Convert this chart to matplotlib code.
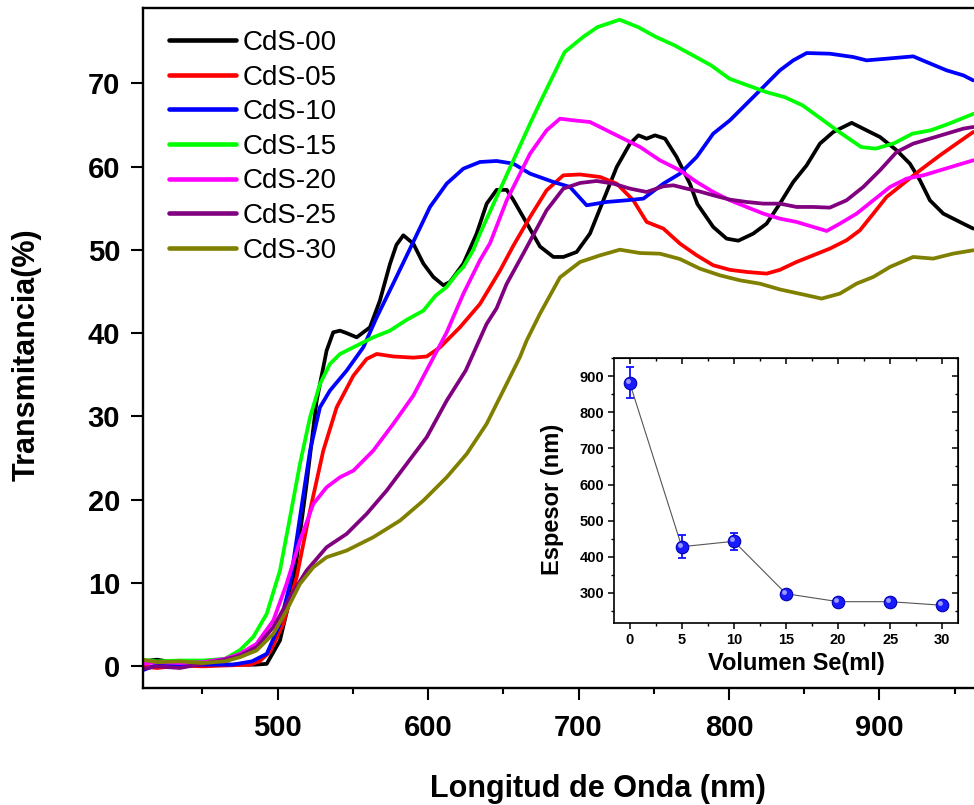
import numpy as np
import matplotlib
matplotlib.use("Agg")
import matplotlib.pyplot as plt
from matplotlib.ticker import MultipleLocator
from matplotlib import transforms

plt.rcParams['font.family'] = ['Liberation Sans', 'DejaVu Sans']

# ---------------- data ----------------
labels = ["CdS-00", "CdS-05", "CdS-10", "CdS-15", "CdS-20", "CdS-25", "CdS-30"]
colors = ["#000000", "#ff0000", "#0000ff", "#00ff00", "#ff00ff", "#800080", "#808000"]

wl_00 = [410, 420, 430, 440, 455, 470, 485, 492.8, 501.6, 510.5, 519.3, 526, 532.6, 537, 541.5, 546,
         552.6, 561.4, 568, 574.7, 579, 583.6, 590.2, 596.9, 603.5, 610.2, 614.6, 623.5, 632.3, 639,
         645.6, 652.3, 656.7, 665.6, 674.4, 683.3, 690, 698.8, 707.6, 716.5, 725.4, 734.2, 739.8,
         745.3, 750.8, 757.5, 765.2, 774, 779, 789.5, 798.4, 806.2, 816.1, 825, 833.8, 842.7, 851.6,
         860.4, 869.3, 881.5, 891.4, 900.3, 911.4, 920.2, 926.9, 933.5, 942.4, 953.4, 962.3]
t_00 = [0.6, 0.8, 0.5, 0.4, 0.3, 0.2, 0.2, 0.3, 3.1, 9.9, 21.9, 31.9, 37.9, 40.1, 40.3, 40.0,
        39.5, 40.7, 43.9, 48.3, 50.6, 51.75, 50.75, 48.35, 46.75, 45.75, 46.15, 48.35, 51.95, 55.55,
        57.2, 57.2, 56.0, 53.2, 50.4, 49.15, 49.15, 49.75, 51.95, 55.95, 59.95, 62.75, 63.75,
        63.35, 63.75, 63.35, 61.15, 57.95, 55.5, 52.75, 51.35, 51.1, 51.95, 53.15, 55.55, 58.15, 60.15,
        62.75, 64.15, 65.25, 64.35, 63.55, 61.95, 60.35, 58.35, 55.95, 54.35, 53.35, 52.55]

wl_05 = [410, 420, 435, 450, 465, 481.7, 488, 495, 503.8, 512.7, 521.6, 530.4, 539.3, 550.4, 559.2,
         565.9, 576.9, 590.2, 599.1, 608, 621.2, 634.5, 647.8, 656.7, 667.8, 678.8, 689.9, 701, 714.3,
         725.4, 736.4, 745.3, 756.4, 767.4, 778.5, 789.5, 800.6, 811.7, 825, 833.8, 844.9, 856, 867,
         878.1, 887, 895.9, 904.7, 915.8, 926.9, 940.2, 951.2, 962.3]
t_05 = [0.0, -0.2, 0.1, 0.0, 0.1, 0.2, 0.6, 1.74, 5.1, 10.7, 18.7, 25.9, 31.1, 34.9, 36.9,
        37.5, 37.2, 37.06, 37.2, 38.3, 40.7, 43.5, 47.5, 50.5, 53.95, 57.15, 58.95, 59.05, 58.75,
        57.95, 55.95, 53.35, 52.55, 50.75, 49.35, 48.15, 47.6, 47.35, 47.15, 47.6, 48.55, 49.35, 50.15,
        51.15, 52.35, 54.35, 56.35, 57.95, 59.55, 61.35, 62.75, 64.15]

wl_10 = [410, 420, 435, 450, 470, 483, 492.8, 501.6, 508.3, 514.9, 521.6, 528.2, 534.8, 545.9, 557,
         565.9, 577, 589, 601.3, 612.4, 623.5, 634.5, 645.6, 656.7, 667.8, 683.3, 694.3, 705.4, 718.7,
         732, 743.1, 756.4, 767.4, 778.5, 789.5, 800.6, 811.7, 822.8, 833.8, 842.7, 851.6, 867, 882.6,
         891.4, 904.7, 922.4, 931.3, 944.6, 955.7, 962.3]
t_10 = [-0.5, 0.2, 0.1, 0.2, 0.2, 0.6, 1.5, 5.1, 9.9, 17.9, 25.9, 31.1, 33.1, 35.5, 38.3,
        41.9, 46.0, 50.5, 55.15, 57.95, 59.75, 60.55, 60.67, 60.35, 59.15, 58.15, 57.55, 55.35, 55.75,
        55.95, 56.15, 57.95, 59.15, 61.15, 63.95, 65.55, 67.55, 69.55, 71.55, 72.75, 73.63, 73.55, 73.15,
        72.75, 72.95, 73.23, 72.55, 71.55, 70.95, 70.35]

wl_15 = [410, 420, 435, 450, 465, 475, 483.9, 492.8, 501.6, 508.3, 514.9, 521.6, 528.2, 534.8, 541.5,
         552.6, 563.6, 574.7, 585.8, 596.9, 605, 612.4, 619, 623.5, 630.1, 634.5, 645.6, 656.7, 667.8,
         675, 690.8, 703, 712.7, 727.3, 739.5, 751.6, 763.8, 776, 788.1, 800.3, 812.4, 824.6, 836.8,
         848.9, 861.1, 873.2, 887.8, 897.5, 909.7, 921.9, 934, 946.2, 962.7]
t_15 = [0.8, 0.6, 0.7, 0.7, 0.9, 1.94, 3.54, 6.3, 11.5, 17.9, 24.3, 29.9, 33.9, 36.3, 37.5,
        38.5, 39.5, 40.3, 41.6, 42.7, 44.5, 45.55, 47.1, 47.95, 50.0, 51.95, 56.35, 60.75, 65.15,
        67.9, 73.75, 75.55, 76.75, 77.63, 76.75, 75.55, 74.55, 73.35, 72.15, 70.55, 69.75, 68.95, 68.35,
        67.35, 65.75, 64.15, 62.35, 62.15, 62.8, 63.95, 64.35, 65.15, 66.35]

wl_20 = [410, 420, 435, 450, 465, 475, 486, 497.2, 506, 514.9, 523.8, 532.6, 541.5, 550.4, 563.6,
         576.9, 590.2, 601.3, 612.4, 623.4, 634.5, 641.2, 652.3, 667.8, 678.8, 687.7, 696.6, 707.6,
         718.7, 729.8, 740.9, 754.1, 767.4, 778.5, 789.5, 800.6, 811.7, 822.8, 833.8, 844.9, 856, 864.9,
         873.7, 884.8, 895.9, 907, 918, 929.1, 940.2, 951.2, 962.3]
t_20 = [0.3, 0.5, 0.4, 0.5, 0.9, 1.5, 2.7, 5.5, 9.9, 15.1, 19.5, 21.5, 22.7, 23.5, 25.9,
        29.1, 32.5, 36.3, 40.1, 44.7, 48.75, 50.8, 55.95, 61.55, 64.35, 65.75, 65.55, 65.35,
        64.35, 63.35, 62.35, 60.75, 59.55, 58.15, 56.95, 55.95, 55.15, 54.35, 53.75, 53.35, 52.75, 52.27,
        53.15, 54.35, 55.95, 57.55, 58.55, 58.95, 59.55, 60.15, 60.75]

wl_25 = [410, 420, 435, 450, 465, 475, 486, 497.2, 508.3, 519.3, 532.6, 545.9, 559.2, 572.5, 585.8,
         599.1, 612.4, 625, 638.9, 645.6, 652.2, 663.3, 678.8, 689.9, 701, 712.1, 723.1, 734.2, 745.3,
         756.4, 763, 771.9, 780.7, 789.5, 800.6, 811.7, 822.8, 833.8, 844.9, 856, 867, 878.1, 889.2,
         900.3, 911.4, 922.4, 933.5, 944.6, 955.7, 962.3]
t_25 = [-0.3, 0.0, -0.2, 0.3, 0.8, 1.3, 2.3, 4.7, 8.3, 11.5, 14.3, 15.9, 18.3, 21.1, 24.3,
        27.5, 31.9, 35.5, 41.1, 43.0, 45.9, 49.55, 54.75, 57.35, 58.03, 58.27, 57.95, 57.35, 56.95,
        57.63, 57.75, 57.35, 57.0, 56.55, 56.03, 55.75, 55.55, 55.55, 55.15, 55.15, 55.07, 55.95, 57.55,
        59.55, 61.75, 62.75, 63.35, 63.95, 64.55, 64.75]

wl_30 = [410, 420, 435, 450, 465, 475, 486, 497.2, 506, 514.9, 523.8, 532.6, 545.9, 563.6, 581.4,
         596.9, 612.4, 625.7, 638.9, 652.2, 661.1, 665.5, 674.4, 687.7, 701, 714.3, 727.5, 740.8, 754.1,
         767.4, 780.7, 794, 807.3, 820.6, 833.8, 851.6, 861.5, 873.7, 884.8, 895.9, 907, 922.4, 935.7,
         949, 962.3]
t_30 = [0.8, 0.5, 0.6, 0.4, 0.6, 1.1, 1.9, 3.9, 6.7, 9.9, 11.9, 13.1, 13.9, 15.5, 17.5,
        19.9, 22.7, 25.5, 29.1, 33.9, 37.14, 39.1, 42.34, 46.7, 48.54, 49.34, 50.02, 49.62, 49.54,
        48.9, 47.74, 46.94, 46.34, 45.94, 45.25, 44.55, 44.15, 44.75, 45.95, 46.75, 47.95, 49.15, 48.95,
        49.55, 49.95]

wavelengths = [wl_00, wl_05, wl_10, wl_15, wl_20, wl_25, wl_30]
transmit = [t_00, t_05, t_10, t_15, t_20, t_25, t_30]

# inset data
vol_se = [0, 5, 10, 15, 20, 25, 30]
espesor = [882, 428, 443, 298, 276, 276, 266]
espesor_err = [43, 32, 23, 8, 10, 10, 10]

# ---------------- figure ----------------
W, H = 974, 805
fig = plt.figure(figsize=(W / 100, H / 100), dpi=100)

L, R, T, B = 143, 974, 8.3, 688
ax = fig.add_axes([L / W, 1 - B / H, (R - L) / W, (B - T) / H])

for wl, tr, lab, col in zip(wavelengths, transmit, labels, colors):
    ax.plot(wl, tr, color=col, lw=2.7, label=lab, solid_capstyle='round',
            solid_joinstyle='round')

ax.set_xlim(410.6, 962.8)
ax.set_ylim(-2.6, 79.0)
ax.xaxis.set_major_locator(MultipleLocator(100))
ax.xaxis.set_minor_locator(MultipleLocator(50))
ax.yaxis.set_major_locator(MultipleLocator(10))

for s in ['left', 'bottom', 'top']:
    ax.spines[s].set_linewidth(1.7)
ax.spines['right'].set_visible(False)

ax.tick_params(axis='both', which='major', direction='out', length=8.5, width=1.5,
               labelsize=21)
ax.tick_params(axis='both', which='minor', direction='out', length=4.5, width=1.5)
ax.tick_params(axis='x', pad=10)
ax.tick_params(axis='y', pad=8)
for lbl in ax.get_xticklabels() + ax.get_yticklabels():
    lbl.set_fontweight('bold')

ax.set_xlabel("Longitud de Onda (nm)", fontsize=22, fontweight='bold')
ax.set_ylabel("Transmitancia(%)", fontsize=22, fontweight='bold')
ax.xaxis.set_label_coords((597.5 - L) / (R - L), (B - 774) / (B - T))
ax.yaxis.set_label_coords((42 - L) / (R - L), (B - 354.5) / (B - T))

leg = ax.legend(loc='upper left', bbox_to_anchor=(169 / W, 1 - 30 / H),
                bbox_transform=fig.transFigure, frameon=False, fontsize=20,
                borderpad=0, borderaxespad=0, handlelength=2.4, handletextpad=0.25,
                labelspacing=0.31)
for line in leg.get_lines():
    line.set_linewidth(3.3)

# ---------------- inset ----------------
iL, iR, iT, iB = 614, 958, 358, 623
ax2 = fig.add_axes([iL / W, 1 - iB / H, (iR - iL) / W, (iB - iT) / H])
ax2.plot(vol_se, espesor, color='#555555', lw=0.8, zorder=2)
ax2.errorbar(vol_se, espesor, yerr=espesor_err, fmt='none', ecolor='#1010ff',
             elinewidth=1.3, capsize=3, capthick=1.3, zorder=3)
ax2.plot(vol_se, espesor, linestyle='none', marker='o', markersize=9,
         markerfacecolor='#1a1aff', markeredgecolor='#0000b0', markeredgewidth=0.8, zorder=4)
hl = transforms.offset_copy(ax2.transData, fig=fig, x=-1.5, y=1.5, units='points')
ax2.plot(vol_se, espesor, linestyle='none', marker='o', markersize=3.5,
         markerfacecolor='#9a9aff', markeredgecolor='none', transform=hl, zorder=5)

ax2.set_xlim(-1.5, 31.5)
ax2.set_ylim(217, 950)
ax2.xaxis.set_major_locator(MultipleLocator(5))
ax2.xaxis.set_minor_locator(MultipleLocator(2.5))
ax2.yaxis.set_major_locator(MultipleLocator(100))
ax2.yaxis.set_minor_locator(MultipleLocator(50))
for s in ax2.spines.values():
    s.set_linewidth(1.2)
ax2.tick_params(axis='both', which='major', direction='out', length=4, width=1.1,
                labelsize=10.5, pad=3)
ax2.tick_params(axis='both', which='minor', direction='out', length=2.5, width=1.0)
for lbl in ax2.get_xticklabels() + ax2.get_yticklabels():
    lbl.set_fontweight('bold')

# mirrored top / right ticks pointing inward
topx = ax2.secondary_xaxis('top')
topx.xaxis.set_major_locator(MultipleLocator(5))
topx.xaxis.set_minor_locator(MultipleLocator(2.5))
topx.tick_params(which='major', direction='in', length=4, width=1.1, labeltop=False)
topx.tick_params(which='minor', direction='in', length=2.5, width=1.0)
rightx = ax2.secondary_yaxis('right')
rightx.yaxis.set_major_locator(MultipleLocator(100))
rightx.yaxis.set_minor_locator(MultipleLocator(50))
rightx.tick_params(which='major', direction='in', length=4, width=1.1, labelright=False)
rightx.tick_params(which='minor', direction='in', length=2.5, width=1.0)

ax2.set_xlabel("Volumen Se(ml)", fontsize=17, fontweight='bold')
ax2.set_ylabel("Espesor (nm)", fontsize=17, fontweight='bold')
ax2.xaxis.set_label_coords((796 - iL) / (iR - iL), (iB - 652) / (iB - iT))
ax2.yaxis.set_label_coords((564 - iL) / (iR - iL), (iB - 499) / (iB - iT))

fig.savefig("out.png", dpi=100)
